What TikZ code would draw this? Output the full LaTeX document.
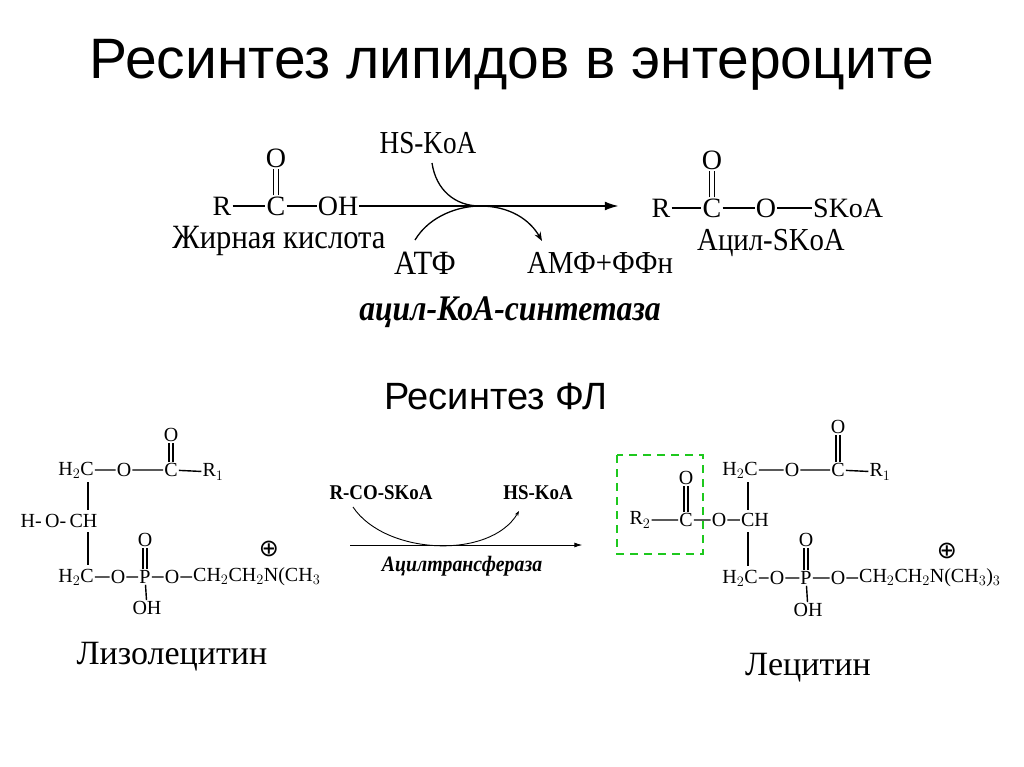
\documentclass[tikz,border=0pt]{standalone}
\usetikzlibrary{arrows.meta}
\usepackage{fontspec}
\setmainfont{Liberation Serif}
\newfontfamily\sans{Liberation Sans}
\newfontfamily\sym{DejaVu Sans}
\begin{document}
\begin{tikzpicture}[x=1pt,y=-1pt,
 at1/.style={inner sep=1pt,font=\fontsize{28}{28}\selectfont},
 at2/.style={inner sep=1pt,font=\fontsize{20}{20}\selectfont},
 bd/.style={line width=1.4pt},
 lbl/.style={inner sep=0pt,font=\fontsize{30}{30}\selectfont}]
\useasboundingbox[fill=white] (0,0) rectangle (1024,767);
\node[font=\sans\fontsize{57}{57}\selectfont] (title) at (512,65) {Ресинтез липидов в энтероците};
% top reaction
\node[at1] (r1) at (222,206) {R};
\node[at1] (c1) at (276,206) {C};
\node[at1] (o1) at (276,158) {O};
\node[at1] (oh1) at (338,206) {OH};
\draw[bd] (r1)--(c1) (c1)--(oh1);
\draw[bd] ([xshift=-2.5pt]c1.north)--([xshift=-2.5pt]o1.south) ([xshift=2.5pt]c1.north)--([xshift=2.5pt]o1.south);
\node[lbl,font=\fontsize{34}{34}\selectfont] (fa) at (279,241) {\addfontfeature{FakeStretch=0.9}Жирная кислота};
\coordinate (m) at (480,206);
\node[at1] (arr) at (620,206) {};
\draw[line width=2pt,-{Latex[length=14pt,width=9pt]}] (oh1.east)--(arr.west);
\node[lbl,font=\fontsize{32}{32}\selectfont] (hs) at (428,143) {\addfontfeature{FakeStretch=0.85}HS-KoA};
\node[lbl,font=\fontsize{34}{34}\selectfont] (atf) at (425,263) {\addfontfeature{FakeStretch=0.9}АТФ};
\node[lbl,font=\fontsize{32}{32}\selectfont] (amf) at (600,263) {\addfontfeature{FakeStretch=0.9}АМФ+ФФн};
\coordinate (hsend) at (432,163);
\coordinate (atfend) at (415,240);
\coordinate (amfend) at (542,241);
\draw[line width=1.3pt] (hsend) .. controls (436,190) and (455,206) .. (m);
\draw[line width=1.3pt,-{Stealth[length=9pt]}] (atfend) .. controls (430,215) and (460,206) .. (m) .. controls (510,206) and (530,220) .. (amfend);
\node[lbl,font=\fontsize{36}{36}\selectfont\itshape\bfseries] (enz) at (510,312) {\addfontfeature{FakeStretch=0.88}ацил-КоА-синтетаза};
\node[at1] (r2) at (661,208) {R};
\node[at1] (c2) at (712,208) {C};
\node[at1] (o2) at (712,160) {O};
\node[at1] (o3) at (766,208) {O};
\node[at1,anchor=west] (sk) at (812,208) {SKoA};
\draw[bd] (r2)--(c2) (c2)--(o3) (o3)--(sk);
\draw[bd] ([xshift=-2.5pt]c2.north)--([xshift=-2.5pt]o2.south) ([xshift=2.5pt]c2.north)--([xshift=2.5pt]o2.south);
\fill[white] (886,180) rectangle (930,230);
\node[lbl,font=\fontsize{32}{32}\selectfont] (acyl) at (771,243) {\addfontfeature{FakeStretch=0.9}Ацил-SKoA};
\node[font=\sans\fontsize{38}{38}\selectfont] (sub) at (496,397) {Ресинтез ФЛ};
% lysolecithin
\begin{scope}[every node/.style={at2}]
\node (a1) at (76,470) {H$_2$C};
\node (a2) at (124,470) {O};
\node (a3) at (171,470) {C};
\node (a4) at (213,472) {R$_1$};
\node (a5) at (171,435) {O};
\node (b1) at (59,521) {H-\,O-\,CH};
\node (d1) at (76,577) {H$_2$C};
\node (d2) at (118,577) {O};
\node (d3) at (145,577) {P};
\node (d4) at (172,577) {O};
\node[anchor=west] (d5) at (192,577) {CH$_2$CH$_2$N(CH$_3$};
\node (d6) at (145,540) {O};
\node (d7) at (147,608) {OH};
\node[font=\sym\fontsize{24}{24}\selectfont] (pl1) at (269,549) {⊕};
\end{scope}
\draw[bd] (a1)--(a2) (a2)--(a3) (a3)--(a4) (d1)--(d2) (d2)--(d3) (d3)--(d4) (d4)--(d5) (d3)--(d7);
\draw[bd] ([xshift=-2pt]a3.north)--([xshift=-2pt]a5.south) ([xshift=2pt]a3.north)--([xshift=2pt]a5.south);
\draw[bd] ([xshift=-2pt]d3.north)--([xshift=-2pt]d6.south) ([xshift=2pt]d3.north)--([xshift=2pt]d6.south);
\draw[bd] (88,482)--(88,510) (88,532)--(88,565);
\node[lbl,font=\fontsize{34}{34}\selectfont] (lyso) at (172,657) {Лизолецитин};
% middle
\node[inner sep=1pt,font=\fontsize{21}{21}\selectfont\bfseries] (rco) at (381,493) {\addfontfeature{FakeStretch=0.9}R-CO-SKoA};
\node[inner sep=1pt,font=\fontsize{21}{21}\selectfont\bfseries] (hs2) at (538,493) {\addfontfeature{FakeStretch=0.9}HS-KoA};
\node[inner sep=0pt] (tgt) at (583,545) {};
\coordinate (st) at (350,545);
\draw[line width=0.9pt,-{Latex[length=8pt,width=5pt]}] (st)--(tgt);
\coordinate (arcs) at (353,507);
\coordinate (arce) at (519,511);
\draw[line width=0.9pt,-{Stealth[length=5pt]}] (arcs) .. controls (385,555) and (490,560) .. (arce);
\node[inner sep=1pt,font=\fontsize{22}{22}\selectfont\bfseries\itshape] (at) at (462,566) {\addfontfeature{FakeStretch=0.9}Ацилтрансфераза};
% lecithin
\begin{scope}[every node/.style={at2}]
\node (e1) at (740,470) {H$_2$C};
\node (e2) at (792,470) {O};
\node (e3) at (838,470) {C};
\node (e4) at (880,472) {R$_1$};
\node (e5) at (838,427) {O};
\node (f1) at (640,520) {R$_2$};
\node (f2) at (686,520) {C};
\node (f3) at (686,478) {O};
\node (f4) at (719,520) {O};
\node (f5) at (755,520) {CH};
\node (g1) at (740,578) {H$_2$C};
\node (g2) at (777,578) {O};
\node (g3) at (806,578) {P};
\node (g4) at (838,578) {O};
\node[anchor=west] (g5) at (858,578) {CH$_2$CH$_2$N(CH$_3$)$_3$};
\node (g6) at (806,540) {O};
\node (g7) at (808,610) {OH};
\node[font=\sym\fontsize{24}{24}\selectfont] (pl2) at (947,551) {⊕};
\end{scope}
\draw[bd] (e1)--(e2) (e2)--(e3) (e3)--(e4) (f1)--(f2) (f2)--(f4) (f4)--(f5) (g1)--(g2) (g2)--(g3) (g3)--(g4) (g4)--(g5) (g3)--(g7);
\draw[bd] ([xshift=-2pt]e3.north)--([xshift=-2pt]e5.south) ([xshift=2pt]e3.north)--([xshift=2pt]e5.south);
\draw[bd] ([xshift=-2pt]f2.north)--([xshift=-2pt]f3.south) ([xshift=2pt]f2.north)--([xshift=2pt]f3.south);
\draw[bd] ([xshift=-2pt]g3.north)--([xshift=-2pt]g6.south) ([xshift=2pt]g3.north)--([xshift=2pt]g6.south);
\draw[bd] (748,482)--(748,510) (748,532)--(748,566);
\draw[draw={rgb,255:red,30;green,200;blue,30},line width=2.2pt,dash pattern=on 8pt off 6pt] (617,455) rectangle (703,554);
\node[lbl,font=\fontsize{34}{34}\selectfont] (lec) at (808,668) {Лецитин};
\end{tikzpicture}
\end{document}
